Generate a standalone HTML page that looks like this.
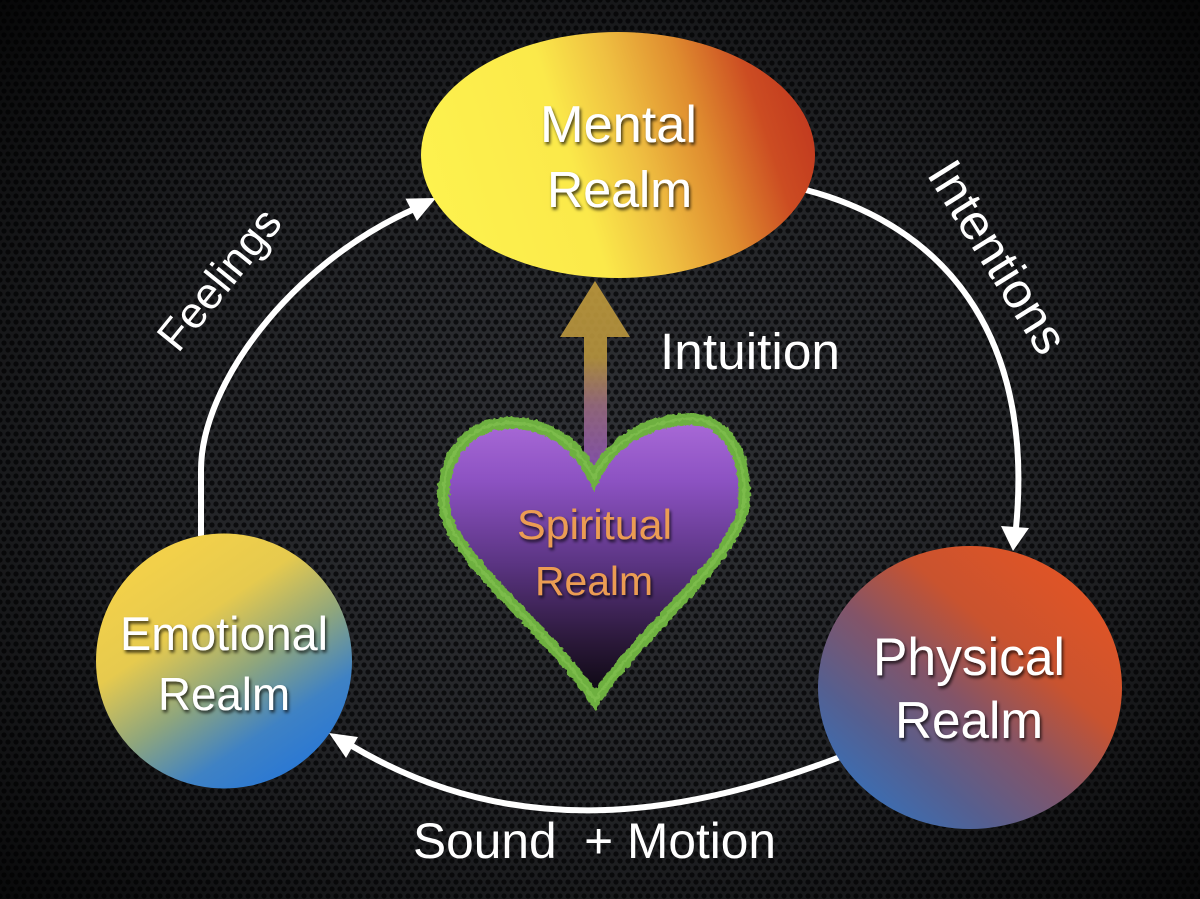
<!DOCTYPE html>
<html>
<head>
<meta charset="utf-8">
<style>
  html,body{margin:0;padding:0;background:#111;}
  svg{display:block;}
  text{font-family:"Liberation Sans", Arial, sans-serif;}
</style>
</head>
<body>
<svg width="1200" height="899" viewBox="0 0 1200 899" xmlns="http://www.w3.org/2000/svg">
  <defs>
    <pattern id="mesh" width="8" height="14" patternUnits="userSpaceOnUse">
      <rect width="8" height="14" fill="#3b3d42"/>
      <circle cx="0" cy="0" r="2.6" fill="#131417"/>
      <circle cx="8" cy="0" r="2.6" fill="#131417"/>
      <circle cx="4" cy="7" r="2.6" fill="#131417"/>
      <circle cx="0" cy="14" r="2.6" fill="#131417"/>
      <circle cx="8" cy="14" r="2.6" fill="#131417"/>
    </pattern>
    <radialGradient id="vig" cx="50%" cy="52%" r="72%">
      <stop offset="0" stop-color="#000" stop-opacity="0.18"/>
      <stop offset="0.55" stop-color="#000" stop-opacity="0.45"/>
      <stop offset="1" stop-color="#000" stop-opacity="0.88"/>
    </radialGradient>

    <linearGradient id="gMental" x1="0" y1="0.6" x2="1" y2="0.4">
      <stop offset="0" stop-color="#fdf24e"/>
      <stop offset="0.38" stop-color="#fbe94a"/>
      <stop offset="0.55" stop-color="#efbf41"/>
      <stop offset="0.72" stop-color="#df8c2f"/>
      <stop offset="0.88" stop-color="#cc4c22"/>
      <stop offset="1" stop-color="#c23a1f"/>
    </linearGradient>

    <linearGradient id="gEmo" x1="0.25" y1="0.1" x2="0.8" y2="0.92">
      <stop offset="0" stop-color="#f2d04a"/>
      <stop offset="0.28" stop-color="#e6ca4e"/>
      <stop offset="0.55" stop-color="#8fa67c"/>
      <stop offset="0.8" stop-color="#3f82c4"/>
      <stop offset="1" stop-color="#2a78d4"/>
    </linearGradient>

    <linearGradient id="gPhys" x1="0.85" y1="0.12" x2="0.15" y2="0.9">
      <stop offset="0" stop-color="#e05426"/>
      <stop offset="0.3" stop-color="#c9532f"/>
      <stop offset="0.55" stop-color="#835468"/>
      <stop offset="0.8" stop-color="#555f90"/>
      <stop offset="1" stop-color="#3a6eb4"/>
    </linearGradient>

    <linearGradient id="gHeart" x1="0" y1="418" x2="0" y2="706" gradientUnits="userSpaceOnUse">
      <stop offset="0" stop-color="#aa6ad8"/>
      <stop offset="0.22" stop-color="#8c52c2"/>
      <stop offset="0.5" stop-color="#5c3584"/>
      <stop offset="0.78" stop-color="#2a1838"/>
      <stop offset="1" stop-color="#050308"/>
    </linearGradient>

    <linearGradient id="gArrow" x1="0" y1="281" x2="0" y2="472" gradientUnits="userSpaceOnUse">
      <stop offset="0" stop-color="#c09a3c"/>
      <stop offset="0.4" stop-color="#b8953e"/>
      <stop offset="0.65" stop-color="#9a6c80"/>
      <stop offset="1" stop-color="#8a52b8"/>
    </linearGradient>

    <filter id="shadow" x="-20%" y="-20%" width="140%" height="160%">
      <feDropShadow dx="1.5" dy="2.5" stdDeviation="1.6" flood-color="#000" flood-opacity="0.75"/>
    </filter>

    <filter id="rough" x="-10%" y="-10%" width="120%" height="120%">
      <feTurbulence type="fractalNoise" baseFrequency="0.22" numOctaves="2" seed="4" result="n"/>
      <feDisplacementMap in="SourceGraphic" in2="n" scale="5" xChannelSelector="R" yChannelSelector="G"/>
    </filter>
  </defs>

  <!-- background -->
  <rect width="1200" height="899" fill="url(#mesh)"/>
  <rect width="1200" height="899" fill="url(#vig)"/>

  <!-- connectors -->
  <g fill="none" stroke="#ffffff" stroke-width="6" stroke-linecap="butt">
    <path d="M 201 536 L 201 470 C 201 385, 290 265, 412 210"/>
    <path d="M 806 190 C 940 225, 1035 330, 1016 528"/>
    <path d="M 840 757 C 670 822, 507 838, 352 746"/>
  </g>
  <g fill="#ffffff">
    <polygon points="436,198 416.9,221 405.5,198.6"/>
    <polygon points="1013,551 1001,526 1029,528"/>
    <polygon points="329,733 358,737 346,758"/>
  </g>

  <!-- Intuition arrow -->
  <polygon points="595,281 630,337 607,337 607,478 584,478 584,337 560,337" fill="url(#gArrow)" opacity="0.9"/>

  <!-- Mental ellipse -->
  <ellipse cx="618" cy="155" rx="197" ry="123" fill="url(#gMental)"/>

  <!-- Emotional -->
  <ellipse cx="224" cy="661" rx="128" ry="127.5" fill="url(#gEmo)"/>

  <!-- Physical -->
  <ellipse cx="970" cy="687.5" rx="152" ry="141.5" fill="url(#gPhys)"/>

  <!-- Heart -->
  <path d="M 594,478 C 575,440 545,422 508,423 C 465,424 440,460 444,505 C 448,555 545,625 595,700 C 645,625 742,555 744,500 C 747,455 725,418 690,419 C 650,420 612,440 594,478 Z" fill="url(#gHeart)"/>
  <path d="M 594,478 C 575,440 545,422 508,423 C 465,424 440,460 444,505 C 448,555 545,625 595,700 C 645,625 742,555 744,500 C 747,455 725,418 690,419 C 650,420 612,440 594,478 Z" fill="none" stroke="#6eb03f" stroke-width="12" stroke-linejoin="miter" filter="url(#rough)"/>
  <path d="M 594,478 C 575,440 545,422 508,423 C 465,424 440,460 444,505 C 448,555 545,625 595,700 C 645,625 742,555 744,500 C 747,455 725,418 690,419 C 650,420 612,440 594,478 Z" fill="none" stroke="#86c452" stroke-width="3" opacity="0.6" filter="url(#rough)"/>

  <!-- Node labels -->
  <g fill="#ffffff" filter="url(#shadow)">
    <text x="540" y="142" font-size="52" textLength="157" lengthAdjust="spacingAndGlyphs">Mental</text>
    <text x="547" y="207" font-size="51" textLength="145" lengthAdjust="spacingAndGlyphs">Realm</text>

    <text x="120" y="650" font-size="47" textLength="208" lengthAdjust="spacingAndGlyphs">Emotional</text>
    <text x="158" y="710" font-size="46" textLength="132" lengthAdjust="spacingAndGlyphs">Realm</text>

    <text x="873" y="675" font-size="53" textLength="192" lengthAdjust="spacingAndGlyphs">Physical</text>
    <text x="895" y="738" font-size="52" textLength="148" lengthAdjust="spacingAndGlyphs">Realm</text>
  </g>
  <g fill="#eb9c52" filter="url(#shadow)">
    <text x="517" y="539" font-size="42" textLength="155" lengthAdjust="spacingAndGlyphs">Spiritual</text>
    <text x="535" y="595" font-size="41" textLength="118" lengthAdjust="spacingAndGlyphs">Realm</text>
  </g>

  <!-- Connector labels -->
  <g fill="#ffffff">
    <text x="660" y="369" font-size="51" textLength="180" lengthAdjust="spacingAndGlyphs">Intuition</text>
    <text transform="translate(178,354) rotate(-51)" x="0" y="0" font-size="44" textLength="168" lengthAdjust="spacingAndGlyphs">Feelings</text>
    <text transform="translate(926,174) rotate(58)" x="0" y="0" font-size="50" textLength="217" lengthAdjust="spacingAndGlyphs">Intentions</text>
    <text x="413" y="858" font-size="50" textLength="363" lengthAdjust="spacingAndGlyphs" style="white-space:pre">Sound  + Motion</text>
  </g>
</svg>
</body>
</html>
